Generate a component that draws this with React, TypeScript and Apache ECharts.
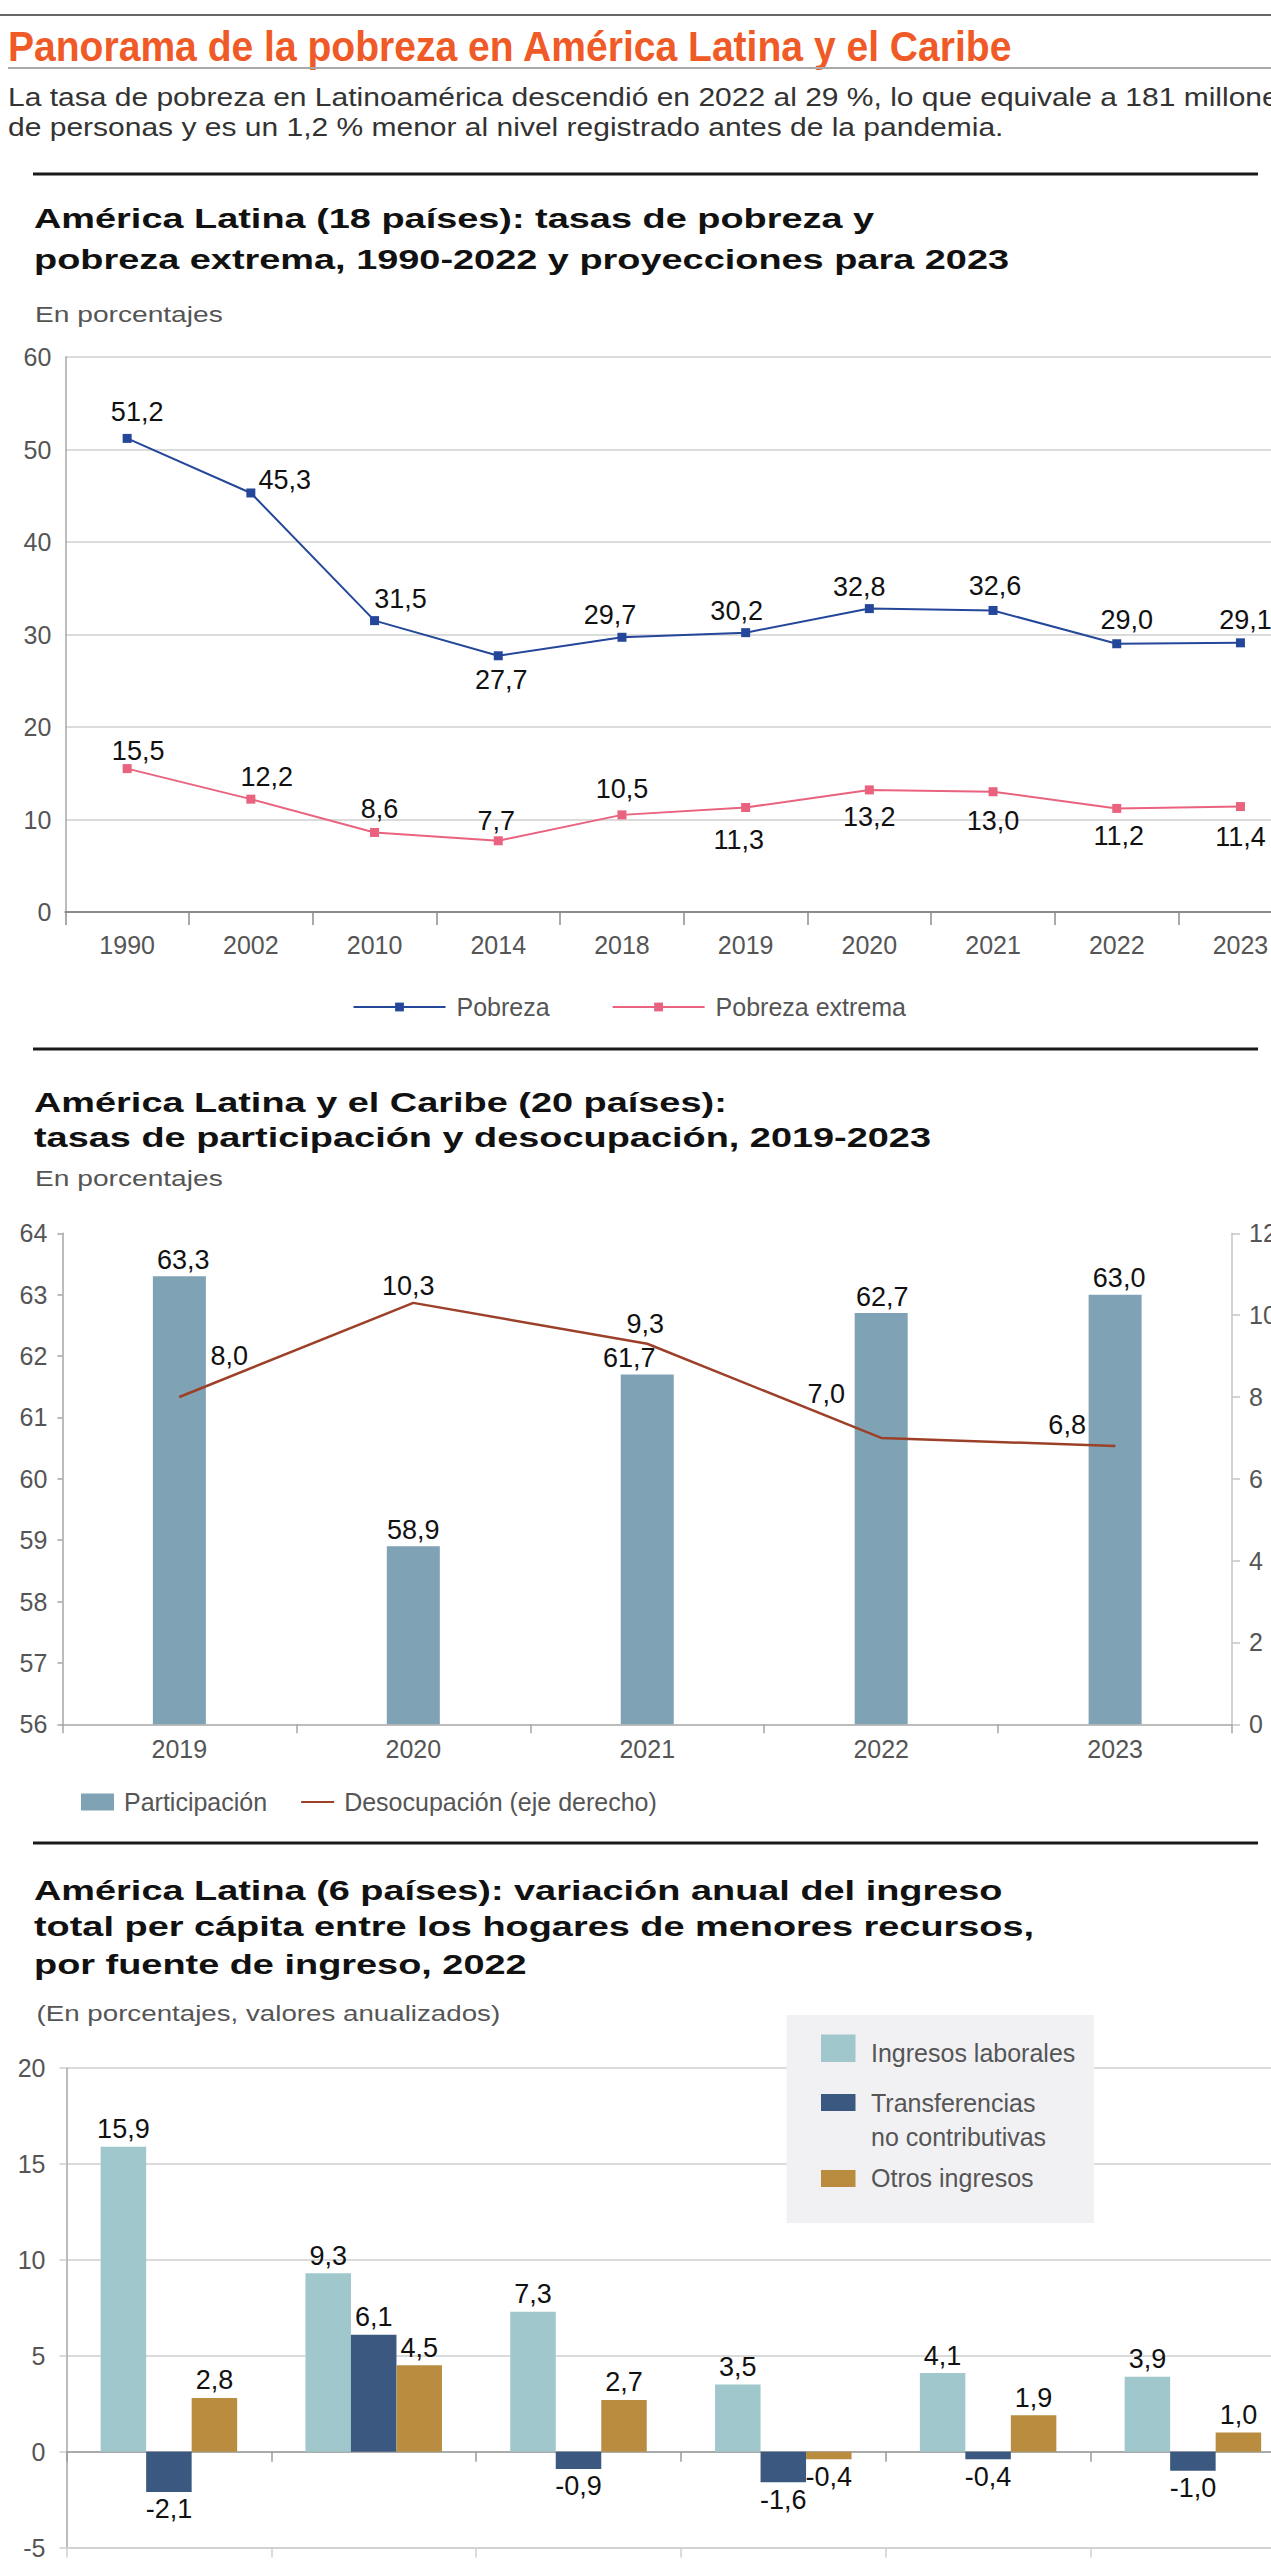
import React, { useEffect, useRef } from 'react';
import * as echarts from 'echarts';

// Chart 1: poverty and extreme poverty rates
const anios = ['1990', '2002', '2010', '2014', '2018', '2019', '2020', '2021', '2022', '2023'];
const pobreza = [51.2, 45.3, 31.5, 27.7, 29.7, 30.2, 32.8, 32.6, 29.0, 29.1];
const pobrezaExtrema = [15.5, 12.2, 8.6, 7.7, 10.5, 11.3, 13.2, 13.0, 11.2, 11.4];

// Chart 2: participation and unemployment rates
const aniosEmpleo = ['2019', '2020', '2021', '2022', '2023'];
const participacion = [63.3, 58.9, 61.7, 62.7, 63.0];
const desocupacion = [8.0, 10.3, 9.3, 7.0, 6.8];

// Chart 3: annual change of per capita income by source (category labels are not shown)
const paises = ['p1', 'p2', 'p3', 'p4', 'p5', 'p6'];
const ingresosLaborales = [15.9, 9.3, 7.3, 3.5, 4.1, 3.9];
const transferencias = [-2.1, 6.1, -0.9, -1.6, -0.4, -1.0];
const otrosIngresos = [2.8, 4.5, 2.7, -0.4, 1.9, 1.0];

// Label nudges (pixels, relative to the point)
const pobrezaLabelOffsets = [[10, -26], [34, -13], [26, -22], [3, 24], [-12, -22], [-9, -22], [-10, -22], [2, -24], [10, -24], [5, -23]];
const extremaLabelOffsets = [[11, -18], [16, -22], [5, -23], [-2, -20], [0, -26], [-7, 33], [0, 27], [0, 29], [2, 28], [0, 30]];
const participacionLabelOffsets = [[4, 0], [0, 0], [-18, 0], [1, 0], [4, 0]];
const desocupacionLabelOffsets = [[50, -41], [-5, -17], [-2, -20], [-55, -44], [-48, -21]];

const SANS = '"Liberation Sans", Arial, Helvetica, sans-serif';
const C_ORANGE = '#ef5a26';
const C_POB = '#24479a';
const C_EXT = '#e9627e';
const C_PART = '#7fa2b4';
const C_DES = '#9c4029';
const C_LAB = '#9fc7cc';
const C_TRF = '#3b5880';
const C_OTR = '#b98c40';
const C_TICK = '#555555';
const C_GRID = '#cfcfcf';

// the drawing surface is wider than the page so the plots can run past its right edge
const PAGE_W = 1271;
const CANVAS_W = 1340;
const CANVAS_H = 2560;

const fmt = (v: number) => v.toFixed(1).replace('.', ',');
const labelFmt = (p: any) => fmt(Number(p.value));

const dataLabel = {
  show: true,
  formatter: labelFmt,
  fontSize: 27,
  color: '#111',
  fontFamily: SANS,
};

const tickLabel = { fontSize: 25, color: C_TICK, fontFamily: SANS };

function text(
  t: string,
  x: number,
  y: number,
  size: number,
  opts: { bold?: boolean; fill?: string; sx?: number } = {}
) {
  return {
    type: 'text',
    x,
    y,
    scaleX: opts.sx ?? 1,
    z: 100,
    style: {
      text: t,
      x: 0,
      y: 0,
      fill: opts.fill ?? '#111',
      fontSize: size,
      fontFamily: SANS,
      fontWeight: opts.bold ? 'bold' : 'normal',
      align: 'left',
      verticalAlign: 'middle',
      textAlign: 'left',
      textVerticalAlign: 'middle',
    },
  };
}

function hline(y: number, x1: number, x2: number, stroke: string, width: number) {
  return { type: 'line', z: 100, shape: { x1, y1: y, x2, y2: y }, style: { stroke, lineWidth: width } };
}

function rect(x: number, y: number, w: number, h: number, fill: string, z = 100) {
  return { type: 'rect', z, shape: { x, y, width: w, height: h }, style: { fill } };
}

const TITLE_SX = 1.33;
const TITLE_SIZE = 28.5;
const NOTE_SX = 1.28;

function buildOption() {
  const graphic = [
    hline(15, 0, CANVAS_W, '#666', 2),
    text('Panorama de la pobreza en América Latina y el Caribe', 8, 46.7, 42, { bold: true, fill: C_ORANGE, sx: 0.93 }),
    hline(68, 8, CANVAS_W, '#a8a8a8', 2),
    text('La tasa de pobreza en Latinoamérica descendió en 2022 al 29 %, lo que equivale a 181 millones', 8, 97, 25, { fill: '#333', sx: 1.2 }),
    text('de personas y es un 1,2 % menor al nivel registrado antes de la pandemia.', 8, 127, 25, { fill: '#333', sx: 1.2 }),
    hline(174, 33, 1258, '#1a1a1a', 3),

    text('América Latina (18 países): tasas de pobreza y', 34, 218.3, TITLE_SIZE, { bold: true, sx: TITLE_SX }),
    text('pobreza extrema, 1990-2022 y proyecciones para 2023', 34, 259.6, TITLE_SIZE, { bold: true, sx: TITLE_SX }),
    text('En porcentajes', 35, 314, 22, { fill: '#555', sx: NOTE_SX }),

    hline(1049, 33, 1258, '#1a1a1a', 3),
    text('América Latina y el Caribe (20 países):', 34, 1102.5, TITLE_SIZE, { bold: true, sx: TITLE_SX }),
    text('tasas de participación y desocupación, 2019-2023', 34, 1137.5, TITLE_SIZE, { bold: true, sx: TITLE_SX }),
    text('En porcentajes', 35, 1177.7, 22, { fill: '#555', sx: NOTE_SX }),

    hline(1843, 33, 1258, '#1a1a1a', 3),
    text('América Latina (6 países): variación anual del ingreso', 34, 1890, TITLE_SIZE, { bold: true, sx: TITLE_SX }),
    text('total per cápita entre los hogares de menores recursos,', 34, 1926.7, TITLE_SIZE, { bold: true, sx: TITLE_SX }),
    text('por fuente de ingreso, 2022', 34, 1964, TITLE_SIZE, { bold: true, sx: TITLE_SX }),
    text('(En porcentajes, valores anualizados)', 36.5, 2013.4, 22, { fill: '#555', sx: 1.26 }),

    // legend box of the income chart
    rect(786.6, 2015, 307.4, 208, '#f1f1f3', 90),
    rect(821, 2034.5, 34.5, 27.5, C_LAB),
    text('Ingresos laborales', 871, 2052.5, 25, { fill: '#555' }),
    rect(821, 2094, 34.5, 17, C_TRF),
    text('Transferencias', 871, 2102.6, 25, { fill: '#555' }),
    text('no contributivas', 871, 2137, 25, { fill: '#555' }),
    rect(821, 2170, 34.5, 17, C_OTR),
    text('Otros ingresos', 871, 2178.4, 25, { fill: '#555' }),
  ];

  const withOffsets = (vals: number[], offs: number[][]) =>
    vals.map((v, i) => ({ value: v, label: { offset: offs[i] } }));
  const signed = (vals: number[]) =>
    vals.map((v) => ({ value: v, label: { position: v < 0 ? 'bottom' : 'top' } }));

  return {
    animation: false,
    backgroundColor: '#ffffff',
    textStyle: { fontFamily: SANS },
    grid: [
      { left: 65.3, top: 357, width: 1237, height: 555 },
      { left: 62.4, top: 1233.3, width: 1169.7, height: 491 },
      { left: 66.5, top: 2068.2, width: 1228.8, height: 486.6 },
    ],
    xAxis: [
      {
        gridIndex: 0,
        type: 'category',
        data: anios,
        boundaryGap: true,
        axisLine: { show: true, lineStyle: { color: '#8c8c8c', width: 2 } },
        axisTick: { show: true, length: 13, lineStyle: { color: '#8c8c8c', width: 1.5 } },
        axisLabel: { ...tickLabel, interval: 0, margin: 20 },
        splitLine: { show: false },
      },
      {
        gridIndex: 1,
        type: 'category',
        data: aniosEmpleo,
        boundaryGap: true,
        axisLine: { show: true, lineStyle: { color: '#a6a6a6', width: 1.5 } },
        axisTick: { show: true, length: 9, lineStyle: { color: '#a6a6a6', width: 1.5 } },
        axisLabel: { ...tickLabel, interval: 0, margin: 12 },
        splitLine: { show: false },
      },
      {
        gridIndex: 2,
        type: 'category',
        data: paises,
        position: 'bottom',
        boundaryGap: true,
        axisLine: { show: true, onZero: false, lineStyle: { color: C_GRID, width: 1.5 } },
        axisTick: { show: true, length: 10, lineStyle: { color: C_GRID, width: 1.5 } },
        axisLabel: { show: false },
        splitLine: { show: false },
      },
      {
        gridIndex: 2,
        type: 'category',
        data: paises,
        position: 'top',
        boundaryGap: true,
        axisLine: { show: true, onZero: true, lineStyle: { color: '#9a9a9a', width: 1.5 } },
        axisTick: { show: true, inside: true, length: 10, lineStyle: { color: '#9a9a9a', width: 1.5 } },
        axisLabel: { show: false },
        splitLine: { show: false },
      },
    ],
    yAxis: [
      {
        gridIndex: 0,
        type: 'value',
        min: 0,
        max: 60,
        interval: 10,
        axisLine: { show: true, lineStyle: { color: '#a6a6a6', width: 1.5 } },
        axisTick: { show: false },
        axisLabel: { ...tickLabel, margin: 14 },
        splitLine: { show: true, lineStyle: { color: C_GRID, width: 1.5 } },
      },
      {
        gridIndex: 1,
        type: 'value',
        position: 'left',
        min: 56,
        max: 64,
        interval: 1,
        axisLine: { show: true, lineStyle: { color: '#a6a6a6', width: 1.5 } },
        axisTick: { show: true, length: 5, lineStyle: { color: '#a6a6a6', width: 1.5 } },
        axisLabel: { ...tickLabel, margin: 15 },
        splitLine: { show: false },
      },
      {
        gridIndex: 1,
        type: 'value',
        position: 'right',
        min: 0,
        max: 12,
        interval: 2,
        axisLine: { show: true, lineStyle: { color: '#c4c4c4', width: 1.5 } },
        axisTick: { show: true, length: 8, lineStyle: { color: '#c4c4c4', width: 1.5 } },
        axisLabel: { ...tickLabel, margin: 17 },
        splitLine: { show: false },
      },
      {
        gridIndex: 2,
        type: 'value',
        min: -5,
        max: 20,
        interval: 5,
        axisLine: { show: true, lineStyle: { color: '#a6a6a6', width: 1.5 } },
        axisTick: { show: true, length: 7, lineStyle: { color: C_GRID, width: 1.5 } },
        axisLabel: { ...tickLabel, margin: 21 },
        splitLine: { show: true, lineStyle: { color: C_GRID, width: 1.5 } },
      },
    ],
    legend: [
      {
        left: 352.5,
        top: 994.5,
        padding: 0,
        itemWidth: 92,
        itemHeight: 11,
        itemGap: 62,
        data: ['Pobreza', 'Pobreza extrema'],
        textStyle: { fontSize: 25, color: C_TICK, fontFamily: SANS, padding: [0, 0, 0, 6] },
      },
      {
        left: 81,
        top: 1789.5,
        padding: 0,
        itemWidth: 33,
        itemHeight: 17,
        itemGap: 33,
        data: [
          { name: 'Participación', icon: 'rect' },
          { name: 'Desocupación (eje derecho)', itemStyle: { color: 'rgba(0,0,0,0)', borderWidth: 0 } },
        ],
        textStyle: { fontSize: 25, color: C_TICK, fontFamily: SANS, padding: [0, 0, 0, 5] },
      },
    ],
    series: [
      {
        name: 'Pobreza',
        type: 'line',
        xAxisIndex: 0,
        yAxisIndex: 0,
        data: withOffsets(pobreza, pobrezaLabelOffsets),
        symbol: 'rect',
        symbolSize: 9,
        lineStyle: { color: C_POB, width: 2 },
        itemStyle: { color: C_POB },
        label: { ...dataLabel, position: 'inside' },
      },
      {
        name: 'Pobreza extrema',
        type: 'line',
        xAxisIndex: 0,
        yAxisIndex: 0,
        data: withOffsets(pobrezaExtrema, extremaLabelOffsets),
        symbol: 'rect',
        symbolSize: 9,
        lineStyle: { color: C_EXT, width: 2 },
        itemStyle: { color: C_EXT },
        label: { ...dataLabel, position: 'inside' },
      },
      {
        name: 'Participación',
        type: 'bar',
        xAxisIndex: 1,
        yAxisIndex: 1,
        data: withOffsets(participacion, participacionLabelOffsets),
        barWidth: 53,
        itemStyle: { color: C_PART },
        label: { ...dataLabel, position: 'top', distance: 3 },
      },
      {
        name: 'Desocupación (eje derecho)',
        type: 'line',
        xAxisIndex: 1,
        yAxisIndex: 2,
        data: withOffsets(desocupacion, desocupacionLabelOffsets),
        symbol: 'circle',
        symbolSize: 1,
        lineStyle: { color: C_DES, width: 2.5 },
        itemStyle: { color: C_DES },
        label: { ...dataLabel, position: 'inside' },
      },
      {
        name: 'Ingresos laborales',
        type: 'bar',
        xAxisIndex: 2,
        yAxisIndex: 3,
        data: signed(ingresosLaborales),
        barWidth: 45.5,
        barGap: '0%',
        itemStyle: { color: C_LAB },
        label: { ...dataLabel, distance: 4 },
      },
      {
        name: 'Transferencias no contributivas',
        type: 'bar',
        xAxisIndex: 2,
        yAxisIndex: 3,
        data: signed(transferencias),
        barWidth: 45.5,
        barGap: '0%',
        itemStyle: { color: C_TRF },
        label: { ...dataLabel, distance: 4 },
      },
      {
        name: 'Otros ingresos',
        type: 'bar',
        xAxisIndex: 2,
        yAxisIndex: 3,
        data: signed(otrosIngresos),
        barWidth: 45.5,
        barGap: '0%',
        itemStyle: { color: C_OTR },
        label: { ...dataLabel, distance: 4 },
      },
    ],
    graphic,
  };
}

export default function App() {
  const ref = useRef<HTMLDivElement>(null);

  useEffect(() => {
    const el = ref.current;
    if (!el) return;
    const chart = echarts.init(el, undefined, { renderer: 'svg', width: CANVAS_W, height: CANVAS_H });
    chart.setOption(buildOption() as any);
    return () => {
      chart.dispose();
    };
  }, []);

  return (
    <div
      style={{
        position: 'absolute',
        left: 0,
        top: 0,
        width: PAGE_W,
        height: CANVAS_H,
        overflow: 'hidden',
        background: '#fff',
      }}
    >
      <div ref={ref} style={{ width: CANVAS_W, height: CANVAS_H }} />
    </div>
  );
}
